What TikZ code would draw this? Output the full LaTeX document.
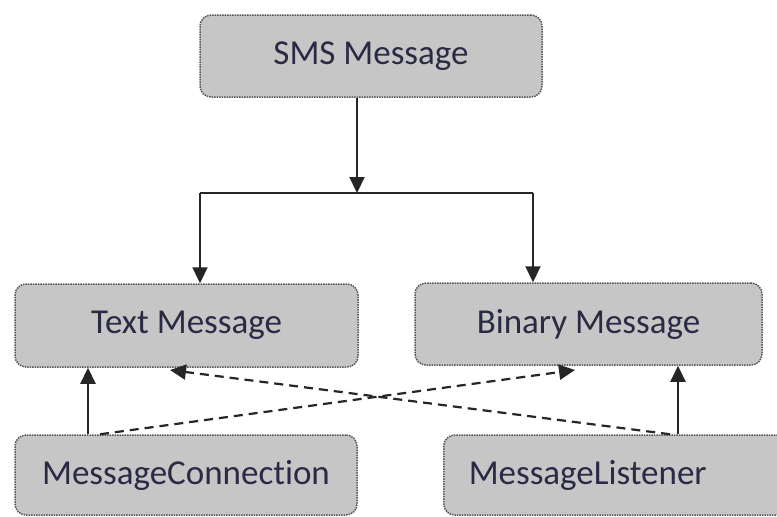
\documentclass[tikz,border=0pt]{standalone}
\usepackage{fontspec}
\setmainfont[Ligatures=NoCommon]{Carlito}
\usetikzlibrary{arrows.meta}
\definecolor{boxfill}{HTML}{C6C6C6}
\definecolor{boxline}{HTML}{555555}
\definecolor{txt}{HTML}{2A2A44}
\tikzset{
  box/.style={draw=boxline, line width=1.5pt, densely dotted, fill=boxfill, rounded corners=11pt,
    text=txt, font=\fontsize{35}{40}\selectfont, inner sep=0pt},
  conn/.style={line width=2.2pt, draw=black!85},
  arr/.style={conn, -{Triangle[length=16pt,width=15pt]}},
  darr/.style={arr, dash pattern=on 9pt off 6pt},
}
\begin{document}
\begin{tikzpicture}[x=1pt,y=-1pt]
\clip (0,0) rectangle (777,517);
\fill[white] (0,0) rectangle (777,517);
\node[box, minimum width=342pt, minimum height=82pt] (sms) at (371,56) {SMS Message};
\node[box, minimum width=343pt, minimum height=83pt] (text) at (186.5,325.5) {Text Message};
\node[box, minimum width=347pt, minimum height=82pt] (binary) at (588.5,324) {Binary Message};
\node[box, minimum width=342pt, minimum height=80pt] (mconn) at (186,475) {MessageConnection};
\node[box, anchor=west, minimum height=80pt, inner xsep=25pt, inner ysep=0pt, text width=310pt, align=left] (listen) at (443,475) {MessageListener};
\coordinate (j) at (357,193);
\coordinate (jl) at (200,193);
\coordinate (jr) at (533,193);
\coordinate (ca) at (88,435);
\coordinate (la) at (678,435);
\coordinate (cd) at (100,435);
\coordinate (ld) at (670,435);
\coordinate (bt) at (575,370);
\coordinate (tt) at (170,370);
\draw[arr] (sms.south -| j) -- (j);
\draw[conn] (jl) -- (jr);
\draw[arr] (jl) -- (jl |- text.north);
\draw[arr] (jr) -- (jr |- binary.north);
\draw[arr] (mconn.north -| ca) -- (ca |- text.south);
\draw[arr] (listen.north -| la) -- (la |- binary.south);
\draw[darr] (mconn.north -| cd) -- (bt);
\draw[darr] (listen.north -| ld) -- (tt);
\end{tikzpicture}
\end{document}
